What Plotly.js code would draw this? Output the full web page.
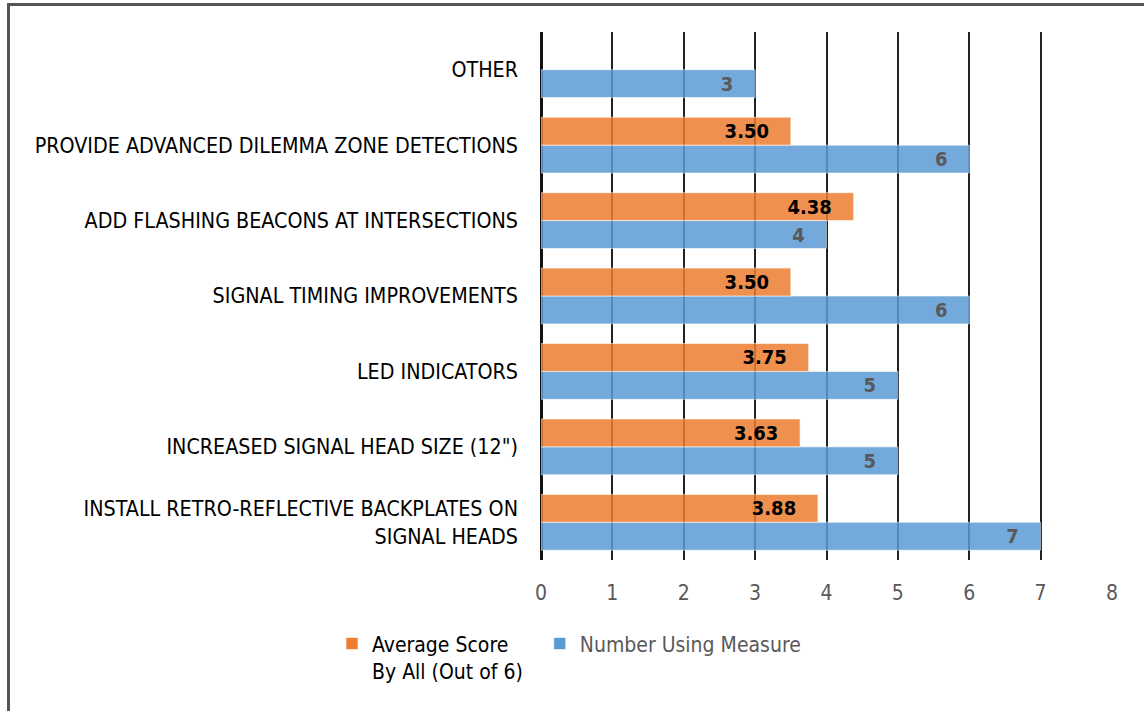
<!DOCTYPE html>
<html>
<head>
<meta charset="utf-8">
<script src="https://cdn.plot.ly/plotly-3.0.1.min.js"></script>
<style>
  html, body { margin: 0; padding: 0; background: #fff; }
  #wrap { position: relative; width: 1144px; height: 711px; overflow: hidden; }
  #chart { position: absolute; left: 0; top: 0; width: 1144px; height: 711px; }
  #frame { position: absolute; left: 7px; top: 3px; width: 1200px; height: 800px;
           border-left: 3px solid #555; border-top: 3px solid #555; pointer-events: none; }
</style>
</head>
<body>
<div id="wrap">
  <div id="chart"></div>
  <div id="frame"></div>
</div>
<script>
const categories = [
  "INSTALL RETRO-REFLECTIVE BACKPLATES ON<br>SIGNAL HEADS",
  "INCREASED SIGNAL HEAD SIZE (12\")",
  "LED INDICATORS",
  "SIGNAL TIMING IMPROVEMENTS",
  "ADD FLASHING BEACONS AT INTERSECTIONS",
  "PROVIDE ADVANCED DILEMMA ZONE DETECTIONS",
  "OTHER"
];
const averageScore = [3.88, 3.63, 3.75, 3.50, 4.38, 3.50, null];
const numberUsing = [7, 5, 5, 6, 4, 6, 3];
const xTicks = [0, 1, 2, 3, 4, 5, 6, 7, 8];
const seriesNames = ["Average Score<br>By All (Out of 6)", "Number Using Measure"];

const FONT = "'DejaVu Sans Condensed', 'Liberation Sans', Arial, sans-serif";
const PAD = '&nbsp;&nbsp;&nbsp;';

const traces = [
  {
    type: 'bar', orientation: 'h',
    name: "<span style='color:#595959'>" + seriesNames[1] + "</span>",
    y: categories, x: numberUsing,
    marker: { color: '#5B9BD5', opacity: 0.85, line: { color: 'rgba(255,255,255,0.6)', width: 1 } },
    text: numberUsing.map(v => v == null ? '' : String(v) + PAD),
    textposition: 'inside', insidetextanchor: 'end', textangle: 0, constraintext: 'none',
    insidetextfont: { family: FONT, size: 20, color: '#595959', weight: 'bold' },
    legendrank: 2, hoverinfo: 'skip'
  },
  {
    type: 'bar', orientation: 'h',
    name: seriesNames[0] + '&nbsp;&nbsp;',
    y: categories, x: averageScore,
    marker: { color: '#ED7D31', opacity: 0.85, line: { color: 'rgba(255,255,255,0.6)', width: 1 } },
    text: averageScore.map(v => v == null ? '' : v.toFixed(2) + PAD),
    textposition: 'inside', insidetextanchor: 'end', textangle: 0, constraintext: 'none',
    insidetextfont: { family: FONT, size: 20, color: '#000000', weight: 'bold' },
    legendrank: 1, hoverinfo: 'skip'
  }
];

const layout = {
  width: 1144, height: 711,
  margin: { l: 541, r: 32, t: 32, b: 151 },
  paper_bgcolor: '#fff', plot_bgcolor: '#fff',
  barmode: 'group', bargap: 0.26, bargroupgap: 0,
  font: { family: FONT, size: 21, color: '#000' },
  xaxis: {
    range: [0, 8], tickvals: xTicks, ticktext: xTicks.map(String),
    showgrid: true, gridcolor: '#222', gridwidth: 2,
    zeroline: true, zerolinecolor: '#111', zerolinewidth: 3,
    showline: false, ticks: '',
    tickfont: { family: FONT, size: 21, color: '#595959' },
    ticklabelstandoff: 18, fixedrange: true
  },
  yaxis: {
    type: 'category', categoryorder: 'array', categoryarray: categories,
    range: [-0.5, 6.5], showgrid: false, zeroline: false, showline: false,
    ticks: '', ticklabelstandoff: 22,
    tickfont: { family: FONT, size: 21.3, color: '#000' }, fixedrange: true
  },
  showlegend: true,
  legend: {
    orientation: 'h', x: -0.366, y: -0.12, xanchor: 'left', yanchor: 'top',
    font: { family: FONT, size: 21, color: '#000' },
    valign: 'top', itemwidth: 30
  }
};

Plotly.newPlot('chart', traces, layout, { staticPlot: true, displayModeBar: false });
</script>
</body>
</html>
